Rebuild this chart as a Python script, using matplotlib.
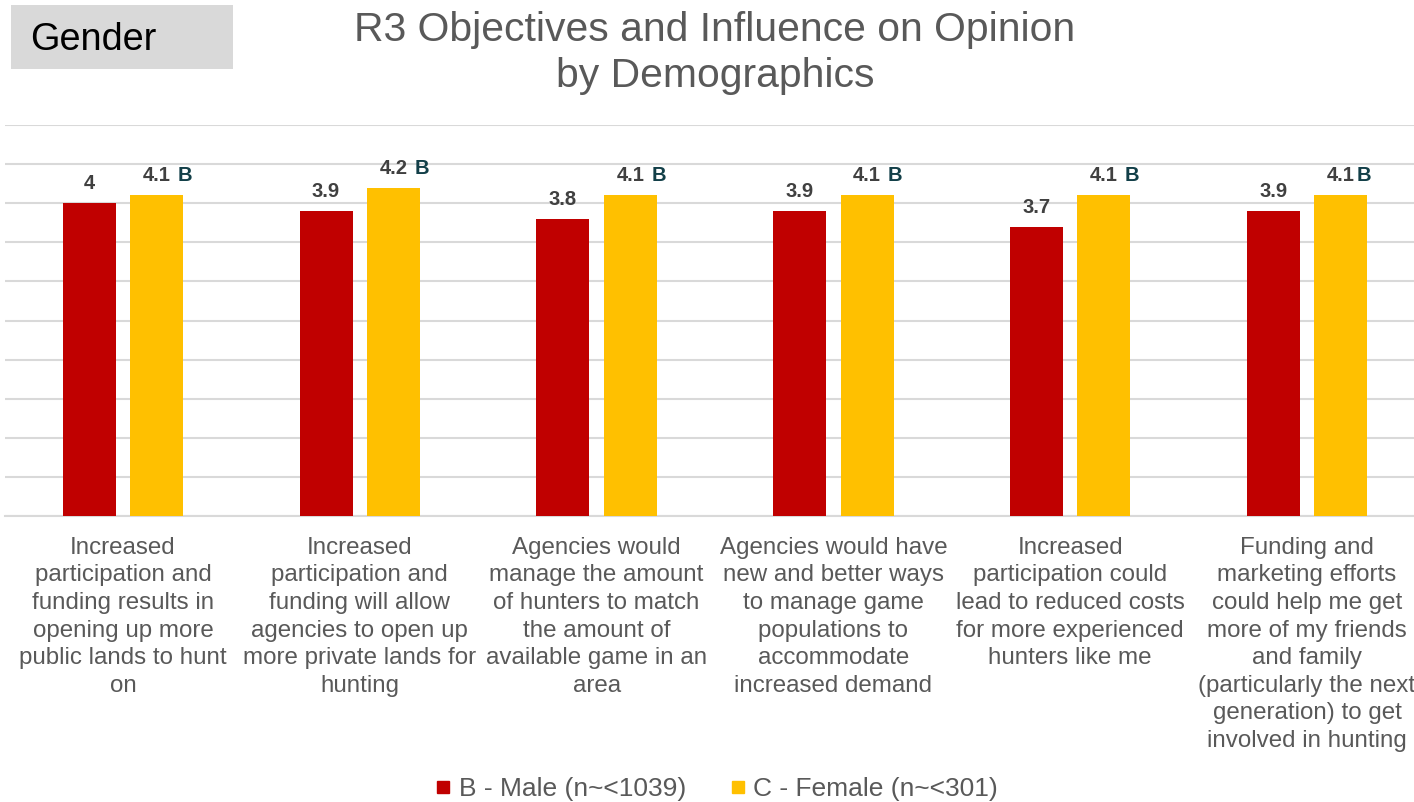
import matplotlib
matplotlib.use("Agg")
import matplotlib.pyplot as plt
from matplotlib.patches import Rectangle
from matplotlib.lines import Line2D
import numpy as np

categories = [
    "Increased\nparticipation and\nfunding results in\nopening up more\npublic lands to hunt\non",
    "Increased\nparticipation and\nfunding will allow\nagencies to open up\nmore private lands for\nhunting",
    "Agencies would\nmanage the amount\nof hunters to match\nthe amount of\navailable game in an\narea",
    "Agencies would have\nnew and better ways\nto manage game\npopulations to\naccommodate\nincreased demand",
    "Increased\nparticipation could\nlead to reduced costs\nfor more experienced\nhunters like me",
    "Funding and\nmarketing efforts\ncould help me get\nmore of my friends\nand family\n(particularly the next\ngeneration) to get\ninvolved in hunting",
]
male = [4.0, 3.9, 3.8, 3.9, 3.7, 3.9]
female = [4.1, 4.2, 4.1, 4.1, 4.1, 4.1]
female_sig = [" B", " B", " B", " B", " B", "B"]
series_names = ["B - Male (n~<1039)", "C - Female (n~<301)"]

RED = "#C00000"
GOLD = "#FFC000"
GRID = "#D9D9D9"
TEXT = "#595959"
VAL = "#404040"
SIG = "#123F48"

plt.rcParams["font.family"] = ["Liberation Sans", "DejaVu Sans"]

W, H = 1414, 802
fig = plt.figure(figsize=(W / 100, H / 100), dpi=100)

# plot area in pixel terms
left_px, right_px = 4.6, 1425.4
top_px, bottom_px = 125, 516
ax = fig.add_axes([left_px / W, 1 - bottom_px / H,
                   (right_px - left_px) / W, (bottom_px - top_px) / H])

x = np.arange(len(categories))
bw = 0.224
off = 0.1425
ax.bar(x - off, male, bw, color=RED, zorder=3)
ax.bar(x + off, female, bw, color=GOLD, zorder=3)

ax.set_xlim(-0.5, len(categories) - 0.5)
ax.set_ylim(0, 5)
ax.set_yticks(np.arange(0, 5.01, 0.5))
ax.yaxis.grid(True, color=GRID, linewidth=1.5, zorder=0)
ax.set_axisbelow(True)
ax.tick_params(axis="y", left=False, labelleft=False)
for s in ["top", "right", "left"]:
    ax.spines[s].set_visible(False)
ax.spines["bottom"].set_color(GRID)
ax.spines["bottom"].set_linewidth(1.5)

ax.set_xticks(x)
ax.set_xticklabels(categories, fontsize=17.4, color=TEXT, linespacing=1.33)
ax.tick_params(axis="x", length=0, pad=15)
for lbl in ax.get_xticklabels():
    lbl.set_verticalalignment("top")
    lbl.set_horizontalalignment("center")

# value labels
val_texts = []
for xi, v in zip(x, male):
    ax.annotate(f"{v:g}", (xi - off, v), xytext=(0, 10), textcoords="offset points",
                ha="center", va="baseline", fontsize=14.5, fontweight="bold", color=VAL)
for xi, v in zip(x, female):
    t = ax.annotate(f"{v:g}", (xi + off, v), xytext=(0, 10), textcoords="offset points",
                    ha="center", va="baseline", fontsize=14.5, fontweight="bold", color=VAL)
    val_texts.append(t)

fig.canvas.draw()
renderer = fig.canvas.get_renderer()
for t, xi, v, sig in zip(val_texts, x, female, female_sig):
    ext = t.get_window_extent(renderer)
    gap_px = 7 if sig.startswith(" ") else 2
    dx_pt = (ext.width / 2 + gap_px) * 72 / 100
    ax.annotate(sig.strip(), (xi + off, v), xytext=(dx_pt, 10), textcoords="offset points",
                ha="left", va="baseline", fontsize=14.5, fontweight="bold", color=SIG)

# title
fig.text(715 / W, 1 - 53 / H, "R3 Objectives and Influence on Opinion\nby Demographics",
         ha="center", va="center", fontsize=29.4, color=TEXT, linespacing=1.25)

# section tag
fig.patches.append(Rectangle((11 / W, 1 - 69 / H), 222 / W, 64 / H,
                             transform=fig.transFigure, facecolor="#D9D9D9",
                             edgecolor="none", zorder=0))
fig.text(30 / W, 1 - 40 / H, "Gender", ha="left", va="center", fontsize=27.3, color="black")

# legend
handles = [Line2D([], [], marker="s", linestyle="none", markersize=8.5,
                  markerfacecolor=c, markeredgecolor=c) for c in (RED, GOLD)]
fig.legend(handles, series_names, loc="center", bbox_to_anchor=(716 / W, 1 - 789 / H),
           ncol=2, frameon=False, fontsize=19, labelcolor=TEXT,
           handletextpad=0.25, columnspacing=1.6, handlelength=0.7)

fig.savefig("out.png", dpi=100)
